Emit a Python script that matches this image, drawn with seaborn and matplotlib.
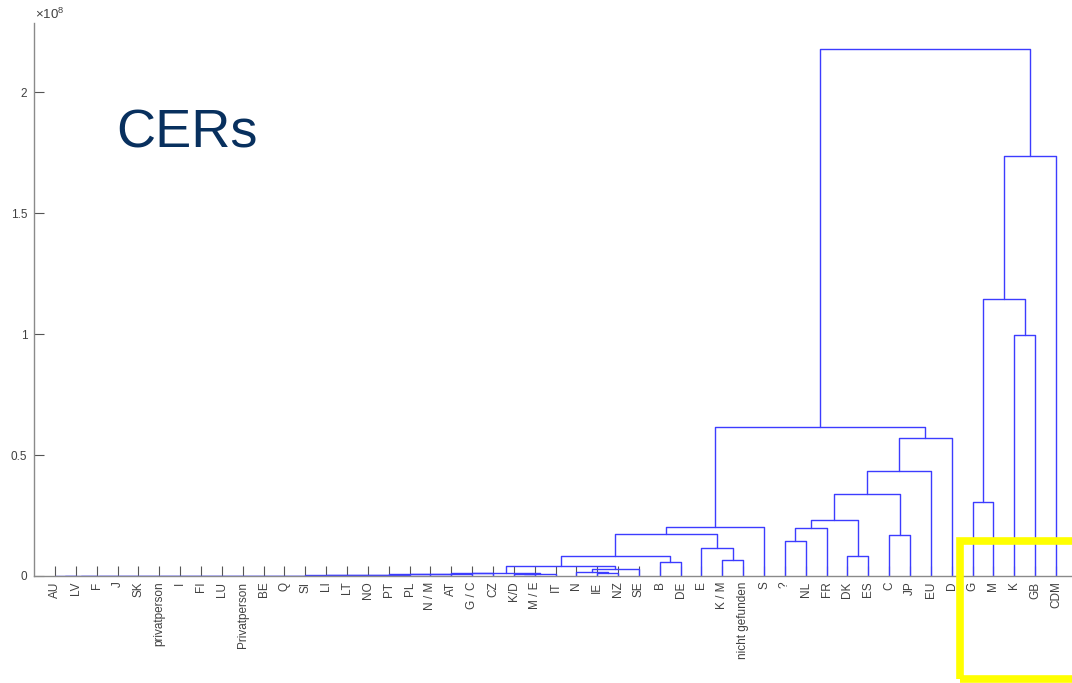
import numpy as np
import pandas as pd
import matplotlib
matplotlib.use("Agg")
import matplotlib.pyplot as plt
from matplotlib.patches import Rectangle
from matplotlib.ticker import FuncFormatter
import seaborn as sns

# Leaf labels in dendrogram order (left to right)
LEAVES = ["AU", "LV", "F", "J", "SK", "privatperson", "I", "FI", "LU",
          "Privatperson", "BE", "Q", "SI", "LI", "LT", "NO", "PT", "PL",
          "N / M", "AT", "G / C", "CZ", "K/D", "M / E", "IT", "N", "IE",
          "NZ", "SE", "B", "DE", "E", "K / M", "nicht gefunden", "S", "?",
          "NL", "FR", "DK", "ES", "C", "JP", "EU", "D", "G", "M", "K", "GB",
          "CDM"]

# Linkage: merge i joins LINK_LEFT[i] and LINK_RIGHT[i] at LINK_HEIGHT[i] (x 1e8).
# Children are leaf labels or "c<i>" for an earlier merge.
LINK_LEFT = ["AU", "c0", "c1", "c2", "c3", "c4", "c5", "c6", "c7", "c8",
             "c9", "c10", "c11", "c12", "c13", "c14", "c15", "c16", "c17",
             "c18", "c19", "K/D", "c21", "c20", "IE", "N", "c25", "c23", "B",
             "c27", "K / M", "E", "c29", "c32", "?", "c34", "DK", "c35", "C",
             "c37", "c39", "c40", "c33", "G", "K", "c43", "c45", "c42"]
LINK_RIGHT = ["LV", "F", "J", "SK", "privatperson", "I", "FI", "LU",
              "Privatperson", "BE", "Q", "SI", "LI", "LT", "NO", "PT", "PL",
              "N / M", "AT", "G / C", "CZ", "M / E", "IT", "c22", "NZ", "c24",
              "SE", "c26", "DE", "c28", "nicht gefunden", "c30", "c31", "S",
              "NL", "FR", "ES", "c36", "JP", "c38", "EU", "D", "c41", "M",
              "GB", "c44", "CDM", "c46"]
LINK_HEIGHT = [0.0001, 0.0002, 0.0003, 0.0004, 0.0005, 0.0006, 0.0007,
               0.0008, 0.0009, 0.0011, 0.0013, 0.0016, 0.0020, 0.0030,
               0.0050, 0.0055, 0.0060, 0.0075, 0.0085, 0.0095, 0.0105,
               0.0090, 0.0100, 0.0120, 0.0110, 0.0153, 0.0290, 0.0426,
               0.0590, 0.0830, 0.0660, 0.1150, 0.1740, 0.2025, 0.1460,
               0.1970, 0.0810, 0.2300, 0.1690, 0.3390, 0.4340, 0.5700,
               0.6160, 0.3060, 0.9960, 1.1450, 1.7360, 2.1780]

Y_TICKS = [0, 0.5, 1, 1.5, 2]

BLUE = "#3c3cff"
TEXT_GREY = "#404040"

# Node positions: leaves at 1..n, merges at the mean of their children
pos = {name: float(i + 1) for i, name in enumerate(LEAVES)}
height = {name: 0.0 for name in LEAVES}
rows = []
for i, (a, b, h) in enumerate(zip(LINK_LEFT, LINK_RIGHT, LINK_HEIGHT)):
    xa, xb = pos[a], pos[b]
    for x, y in [(xa, height[a]), (xa, h), (xb, h), (xb, height[b])]:
        rows.append({"link": i, "x": x, "y": y})
    pos[f"c{i}"] = (xa + xb) / 2
    height[f"c{i}"] = h
segments = pd.DataFrame(rows)

sns.set_theme(style="white")
plt.rcParams["font.family"] = ["Liberation Sans", "DejaVu Sans"]
plt.rcParams["mathtext.fontset"] = "custom"
plt.rcParams["mathtext.rm"] = "Liberation Sans"

W, H = 1072, 683
fig = plt.figure(figsize=(W / 100, H / 100), dpi=100)
fig.patch.set_facecolor("white")

n = len(LEAVES)
x_unit = (1056 - 55) / (n - 1)
ax_left = 55 - x_unit
ax_w = x_unit * (n + 1)
ax_bottom = H - 576
ax_h = 576 - 23
ax = fig.add_axes([ax_left / W, ax_bottom / H, ax_w / W, ax_h / H])
ax.set_facecolor("white")

sns.lineplot(data=segments, x="x", y="y", units="link", estimator=None,
             sort=False, color=BLUE, linewidth=1.0, legend=False, ax=ax)

ax.set_xlim(0, n + 1)
ax.set_ylim(0, max(LINK_HEIGHT) * 1.05)
ax.set_xlabel("")
ax.set_ylabel("")

ax.set_xticks(np.arange(1, n + 1))
ax.set_xticklabels(LEAVES, rotation=90, va="top", ha="center")
ax.set_yticks(Y_TICKS)
ax.yaxis.set_major_formatter(FuncFormatter(lambda v, _: f"{v:g}"))

for side in ["top", "right"]:
    ax.spines[side].set_visible(False)
for side in ["left", "bottom"]:
    ax.spines[side].set_color("#8a8a8a")
    ax.spines[side].set_linewidth(1.0)

ax.tick_params(axis="both", which="major", bottom=True, left=True,
               direction="in", length=7.5, width=0.8,
               color="#555555", labelcolor=TEXT_GREY, labelsize=8.5)
ax.tick_params(axis="x", pad=4)
ax.tick_params(axis="y", pad=5)

# Exponent marker above the y axis
fig.text(35 / W, (H - 19) / H, r"$\mathregular{\times10^{8}}$",
         fontsize=9.5, color=TEXT_GREY, ha="left", va="baseline")

# Title text inside the plot
fig.text(116 / W, (H - 147) / H, "CERs", fontsize=39, color="#08305e",
         ha="left", va="baseline")

# Highlight frame around the lower right corner
fig.add_artist(Rectangle((959.5 / W, (H - 679) / H), 0.2, (679 - 541) / H,
                         fill=False, edgecolor="#ffff00", linewidth=5.5,
                         transform=fig.transFigure, clip_on=False, zorder=10))

fig.savefig("out.png", dpi=100, facecolor="white")
